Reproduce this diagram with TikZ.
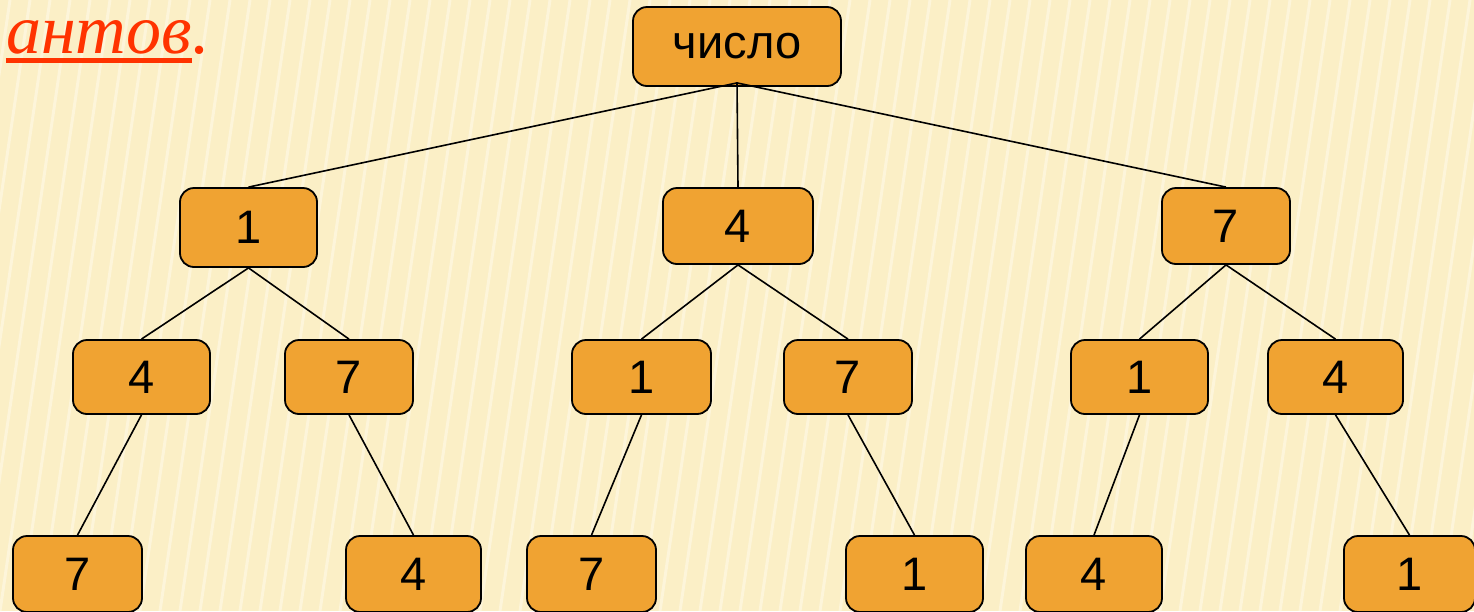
\documentclass[tikz,border=0pt]{standalone}
\usepackage{fontspec}
\setmainfont{Liberation Sans}
\newfontfamily\serifit{Liberation Serif}
\definecolor{bg}{HTML}{FBEFC6}
\definecolor{stripe}{HTML}{FDF5DA}
\definecolor{boxfill}{HTML}{F0A332}
\definecolor{redtxt}{HTML}{FF3300}
\begin{document}
\begin{tikzpicture}[x=1pt,y=-1pt,
  treebox/.style={draw=black,line width=1.8pt,fill=boxfill,rounded corners=14pt,
    inner sep=0pt,font=\fontsize{47}{50}\selectfont,text=black},
  edge/.style={draw=black,line width=1.6pt}]
\useasboundingbox (0,0) rectangle (1474,611);
\clip (0,0) rectangle (1474,611);
\fill[bg] (0,0) rectangle (1474,611);
\foreach \i in {0,...,90} {
  \draw[stripe,line width=3pt] (-120+\i*20,611) -- (-30+\i*20,0);
}
% title fragment
\node[anchor=base east,inner sep=0pt,text=redtxt,font=\serifit\itshape\fontsize{70}{76}\selectfont] (word) at (192,53) {антов};
\node[anchor=base west,inner sep=0pt,text=redtxt,font=\serifit\itshape\fontsize{70}{76}\selectfont] (dot) at (word.base east) {.};
\draw[redtxt,line width=5pt] ([yshift=-7pt]word.base west) -- ([yshift=-7pt]word.base east);
% nodes
\node[treebox,minimum width=208pt,minimum height=79pt] (r) at (737,46.5) {число};
\node[treebox,minimum width=137pt,minimum height=79pt] (a) at (248.5,227.5) {1};
\node[treebox,minimum width=150pt,minimum height=76pt] (b) at (738,226) {4};
\node[treebox,minimum width=128pt,minimum height=76pt] (c) at (1226,226) {7};
\node[treebox,minimum width=137pt,minimum height=74pt] (a1) at (141.5,377) {4};
\node[treebox,minimum width=128pt,minimum height=74pt] (a2) at (349,377) {7};
\node[treebox,minimum width=139pt,minimum height=74pt] (b1) at (641.5,377) {1};
\node[treebox,minimum width=128pt,minimum height=74pt] (b2) at (848,377) {7};
\node[treebox,minimum width=137pt,minimum height=74pt] (c1) at (1139.5,377) {1};
\node[treebox,minimum width=135pt,minimum height=74pt] (c2) at (1335.5,377) {4};
\node[treebox,minimum width=129pt,minimum height=76pt] (a11) at (77.5,574) {7};
\node[treebox,minimum width=135pt,minimum height=76pt] (a21) at (413.5,574) {4};
\node[treebox,minimum width=129pt,minimum height=76pt] (b11) at (591.5,574) {7};
\node[treebox,minimum width=137pt,minimum height=76pt] (b21) at (914.5,574) {1};
\node[treebox,minimum width=136pt,minimum height=76pt] (c11) at (1094,574) {4};
\node[treebox,minimum width=131pt,minimum height=76pt] (c21) at (1409.5,574) {1};
% edges
\draw[edge] ([yshift=4pt]r.south) -- (a.north);
\draw[edge] ([yshift=4pt]r.south) -- (b.north);
\draw[edge] ([yshift=4pt]r.south) -- (c.north);
\draw[edge] (a.south) -- (a1.north);
\draw[edge] (a.south) -- (a2.north);
\draw[edge] (b.south) -- (b1.north);
\draw[edge] (b.south) -- (b2.north);
\draw[edge] (c.south) -- (c1.north);
\draw[edge] (c.south) -- (c2.north);
\draw[edge] (a1.south) -- (a11.north);
\draw[edge] (a2.south) -- (a21.north);
\draw[edge] (b1.south) -- (b11.north);
\draw[edge] (b2.south) -- (b21.north);
\draw[edge] (c1.south) -- (c11.north);
\draw[edge] (c2.south) -- (c21.north);
\end{tikzpicture}
\end{document}
